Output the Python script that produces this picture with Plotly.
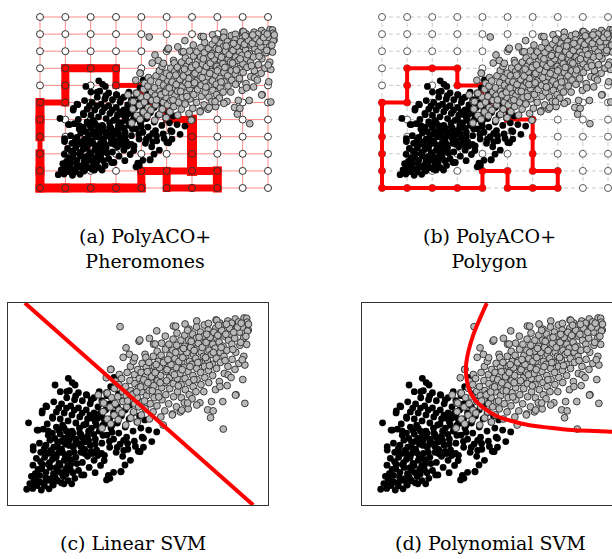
import plotly.graph_objects as go

W, H = 612, 559

# ---------------------------------------------------------------- data
# class 0 (black) samples
black_x = [
    0.72, 0.95, 1.12, 0.84, 1.28, 1.58, 1.36, 1.05, 0.90, 1.22,
    1.52, 1.72, 1.82, 1.46, 1.16, 0.96, 1.31, 1.62, 1.92, 2.12,
    2.31, 2.57, 2.22, 1.96, 1.71, 1.41, 1.09, 0.97, 1.26, 1.56,
    1.86, 2.16, 2.41, 2.71, 2.92, 3.12, 2.86, 2.61, 2.36, 2.06,
    1.76, 1.46, 1.21, 1.61, 1.91, 2.21, 2.51, 2.81, 3.06, 3.31,
    3.56, 3.86, 4.06, 4.35, 3.71, 3.41, 3.16, 2.91, 2.61, 2.31,
    2.01, 1.71, 1.36, 1.12, 1.51, 1.86, 2.16, 2.46, 2.76, 3.06,
    3.36, 3.61, 3.91, 4.16, 4.41, 4.71, 5.01, 5.21, 4.61, 4.31,
    4.06, 3.81, 3.51, 3.21, 2.91, 2.61, 2.31, 2.01, 1.71, 1.31,
    0.79, 1.86, 2.16, 2.46, 2.76, 3.06, 3.36, 3.66, 3.96, 4.26,
    4.56, 4.86, 5.16, 5.53, 5.72, 5.41, 5.11, 4.81, 4.51, 4.21,
    3.91, 3.61, 3.31, 3.01, 2.71, 2.41, 2.06, 1.76, 1.46, 2.26,
    2.56, 2.86, 3.16, 3.46, 3.76, 4.06, 4.36, 4.66, 4.96, 5.26,
    3.01, 2.71, 2.36, 2.01, 1.81, 2.32, 2.58, 3.31, 3.61, 3.91,
    4.21, 4.51, 4.81, 3.51, 3.81, 4.08, 3.95, 4.41, 5.06, 4.34,
    3.92, 3.79, 4.50, 5.08, 5.21, 2.83, 1.74, 2.24, 1.17, 1.49,
    1.72, 0.97, 2.47, 2.26, 3.03, 1.32, 2.05, 2.45, 3.35, 3.60,
    1.45, 1.75, 2.00, 2.30, 2.55, 2.80, 3.05, 3.30, 3.55, 3.80,
    1.30, 1.60, 1.85, 2.10, 2.35, 2.60, 2.85, 3.10, 3.40, 3.70,
    1.05, 1.35, 1.65, 1.90, 2.15, 2.45, 2.75, 3.00, 3.25, 3.55,
    4.70, 4.90, 4.60, 4.25, 4.45, 4.00, 3.25, 2.95, 2.10, 1.55,
    1.20, 1.40, 1.65, 1.90, 2.05, 1.85, 1.55, 1.25, 2.30, 2.50,
    2.65, 2.45, 2.20, 1.95, 1.70, 1.40, 1.80, 2.05, 2.35, 2.70,
    2.95, 3.20, 3.45, 3.70, 3.35, 3.10, 2.80, 2.50, 2.25, 1.95,
    1.55, 3.65, 3.90, 4.20, 4.45, 4.00, 3.75, 3.45, 3.15, 2.85,
    2.55, 2.25, 1.95, 2.60, 3.20, 4.60, 4.90, 2.40, 2.15, 1.00,
]
black_y = [
    0.78, 0.82, 0.96, 1.06, 0.74, 0.80, 1.08, 1.26, 1.42, 1.47,
    1.22, 1.04, 1.36, 1.62, 1.76, 1.97, 2.02, 1.86, 1.66, 1.41,
    1.21, 1.32, 1.77, 2.06, 2.26, 2.36, 2.31, 2.72, 2.61, 2.56,
    2.46, 2.21, 2.01, 1.71, 1.49, 1.86, 2.11, 2.36, 2.56, 2.76,
    2.86, 2.96, 3.06, 3.21, 3.11, 3.01, 2.86, 2.61, 2.41, 2.21,
    1.96, 1.46, 1.62, 1.66, 2.46, 2.71, 2.96, 3.11, 3.26, 3.41,
    3.51, 3.56, 3.76, 3.71, 4.01, 3.86, 3.81, 3.66, 3.56, 3.41,
    3.26, 3.06, 2.86, 2.61, 2.41, 2.21, 2.66, 2.86, 2.76, 3.01,
    3.26, 3.46, 3.66, 3.81, 3.96, 4.06, 4.16, 4.26, 4.36, 4.56,
    4.07, 4.61, 4.56, 4.46, 4.36, 4.26, 4.11, 3.96, 3.81, 3.56,
    3.36, 3.16, 3.36, 3.14, 3.62, 3.71, 3.81, 3.66, 3.86, 4.06,
    4.26, 4.41, 4.56, 4.71, 4.81, 4.91, 5.01, 5.11, 4.91, 5.31,
    5.21, 5.16, 5.01, 4.86, 4.71, 4.56, 4.41, 4.26, 4.11, 4.21,
    5.46, 5.56, 5.66, 5.61, 5.94, 6.27, 5.94, 5.31, 5.16, 5.01,
    4.86, 4.71, 4.56, 5.61, 5.41, 6.32, 5.86, 5.16, 4.41, 1.64,
    1.32, 1.24, 1.98, 2.64, 3.30, 1.49, 0.99, 1.54, 3.71, 4.87,
    4.29, 2.89, 6.06, 5.61, 5.44, 4.66, 1.10, 1.05, 1.60, 2.55,
    1.35, 1.55, 1.95, 2.30, 2.60, 2.90, 3.15, 3.50, 3.80, 4.05,
    1.80, 2.10, 2.35, 2.60, 2.95, 3.05, 3.35, 3.65, 3.95, 4.25,
    1.55, 2.65, 2.70, 2.90, 3.30, 3.35, 3.80, 4.00, 4.30, 4.55,
    4.95, 5.25, 5.40, 5.50, 3.20, 3.60, 2.55, 2.75, 3.95, 3.45,
    1.15, 0.95, 1.30, 1.20, 1.60, 1.85, 2.00, 2.15, 1.95, 1.60,
    2.05, 2.25, 2.45, 2.60, 2.55, 2.80, 3.30, 3.15, 3.20, 3.05,
    2.55, 2.65, 2.45, 2.20, 3.00, 3.20, 3.50, 3.55, 3.65, 3.70,
    3.65, 3.45, 3.15, 2.85, 2.70, 3.95, 4.15, 4.30, 4.45, 4.55,
    4.70, 4.80, 4.80, 5.40, 5.20, 3.05, 2.90, 1.75, 1.05, 1.15,
]

# class 1 (grey) samples
gray_x = [
    3.62, 3.66, 3.64, 3.79, 3.82, 3.78, 3.47, 3.95, 3.93, 3.98,
    3.96, 4.08, 4.12, 4.09, 4.13, 4.24, 4.27, 4.22, 4.26, 4.28,
    4.38, 4.42, 4.41, 4.37, 4.43, 4.53, 4.57, 4.55, 4.52, 4.58,
    4.67, 4.72, 4.68, 4.73, 4.69, 4.71, 4.31, 4.83, 4.87, 4.84,
    4.88, 4.86, 4.82, 4.98, 5.03, 4.97, 5.02, 5.05, 4.99, 5.04,
    5.13, 5.17, 5.14, 5.18, 5.12, 5.16, 5.27, 5.28, 5.33, 5.31,
    5.29, 5.32, 5.30, 5.44, 5.47, 5.43, 5.48, 5.46, 5.42, 5.44,
    5.58, 5.62, 5.61, 5.57, 5.63, 5.59, 5.60, 5.73, 5.77, 5.76,
    5.72, 5.78, 5.74, 5.72, 5.88, 5.92, 5.91, 5.87, 5.93, 5.89,
    5.91, 6.03, 6.07, 6.04, 6.08, 6.02, 6.06, 6.05, 6.18, 6.22,
    6.21, 6.17, 6.23, 6.19, 6.33, 6.37, 6.36, 6.32, 6.38, 6.34,
    6.35, 6.36, 6.48, 6.52, 6.51, 6.47, 6.53, 6.49, 6.50, 6.63,
    6.67, 6.66, 6.62, 6.68, 6.64, 6.65, 6.78, 6.82, 6.81, 6.77,
    6.83, 6.79, 6.80, 6.81, 6.93, 6.97, 6.96, 6.92, 6.98, 6.94,
    6.95, 6.96, 7.08, 7.12, 7.11, 7.07, 7.13, 7.09, 7.10, 7.26,
    7.23, 7.27, 7.26, 7.22, 7.28, 7.24, 7.25, 7.38, 7.42, 7.41,
    7.37, 7.43, 7.39, 7.40, 7.53, 7.57, 7.56, 7.52, 7.58, 7.54,
    7.55, 7.71, 7.68, 7.72, 7.71, 7.67, 7.73, 7.69, 7.70, 7.79,
    7.83, 7.87, 7.86, 7.82, 7.88, 7.84, 7.98, 8.02, 8.01, 7.97,
    8.03, 7.99, 8.00, 8.13, 8.17, 8.16, 8.12, 8.18, 8.14, 8.28,
    8.26, 8.32, 8.31, 8.27, 8.33, 8.29, 8.47, 8.43, 8.46, 8.42,
    8.48, 8.44, 8.45, 8.58, 8.62, 8.61, 8.57, 8.63, 8.15, 8.77,
    8.73, 8.76, 8.72, 8.78, 8.74, 8.88, 8.92, 8.91, 8.87, 9.03,
    9.07, 9.06, 9.02, 9.08, 9.11, 9.11, 9.18, 9.24, 9.18, 9.21,
    6.68, 7.26, 5.97, 6.32, 6.91, 7.89, 8.75, 9.01, 6.45, 5.66,
    5.07, 4.54, 4.87, 3.95, 3.82, 6.91, 8.03, 8.60, 9.20, 3.68,
    4.60, 4.78, 4.95, 5.10, 5.22, 5.38, 5.52, 5.36, 5.66, 5.83,
    5.70, 5.98, 6.12, 6.27, 6.15, 6.42, 6.57, 6.45, 6.72, 6.88,
    6.75, 7.02, 7.16, 7.05, 7.32, 7.47, 7.35, 7.62, 7.77, 7.64,
    7.92, 8.07, 8.22, 8.38, 8.52, 8.68, 8.83, 8.97, 8.40, 8.10,
    5.55, 5.85, 6.10, 6.40, 6.70, 7.00, 7.30, 7.60, 7.90, 8.20,
    5.25, 5.80, 6.55, 7.15, 7.75, 8.35, 8.65, 8.95, 9.15, 9.25,
]
gray_y = [
    3.80, 4.62, 5.05, 5.55, 4.25, 6.30, 5.45, 4.02, 4.85, 5.32,
    6.72, 4.45, 5.02, 5.77, 6.12, 4.22, 4.70, 5.36, 5.96, 6.46,
    4.55, 5.12, 5.62, 6.26, 7.31, 3.96, 4.86, 5.41, 5.86, 6.56,
    7.46, 4.31, 5.21, 5.66, 6.16, 6.86, 8.83, 4.61, 5.01, 5.52,
    6.01, 6.46, 7.11, 4.11, 4.86, 5.31, 5.81, 6.26, 6.71, 8.11,
    4.46, 5.11, 5.61, 6.06, 6.56, 7.01, 7.46, 4.76, 5.41, 5.86,
    6.36, 6.81, 7.31, 4.26, 5.01, 5.66, 6.11, 6.61, 7.06, 8.25,
    4.61, 5.31, 5.91, 6.41, 6.86, 7.36, 7.96, 4.91, 5.56, 6.16,
    6.66, 7.11, 7.61, 8.62, 4.36, 5.21, 5.81, 6.41, 6.91, 7.41,
    8.01, 4.66, 5.46, 6.06, 6.61, 7.16, 7.71, 8.36, 5.01, 5.76,
    6.31, 6.86, 7.41, 7.96, 4.51, 5.36, 6.01, 6.56, 7.11, 7.66,
    8.21, 8.86, 4.86, 5.61, 6.26, 6.81, 7.36, 7.91, 8.51, 4.61,
    5.31, 5.96, 6.51, 7.06, 7.61, 8.16, 5.06, 5.71, 6.26, 6.81,
    7.36, 7.86, 8.41, 8.96, 4.76, 5.46, 6.06, 6.61, 7.11, 7.61,
    8.16, 8.71, 5.26, 5.86, 6.41, 6.96, 7.46, 7.96, 8.46, 9.11,
    5.61, 6.21, 6.76, 7.26, 7.76, 8.26, 8.81, 5.06, 5.96, 6.56,
    7.06, 7.56, 8.06, 8.56, 5.61, 6.31, 6.86, 7.36, 7.86, 8.36,
    8.91, 8.99, 4.71, 6.06, 6.66, 7.16, 7.66, 8.16, 8.66, 4.32,
    5.12, 6.41, 6.96, 7.46, 7.96, 8.46, 5.71, 6.76, 7.26, 7.76,
    8.26, 8.76, 9.16, 6.11, 7.06, 7.56, 8.06, 8.56, 9.01, 3.76,
    5.12, 6.51, 7.36, 7.86, 8.36, 8.86, 6.44, 5.91, 6.86, 7.66,
    8.16, 8.66, 9.11, 6.31, 7.21, 7.96, 8.46, 8.91, 5.86, 5.46,
    6.71, 7.56, 8.26, 8.76, 9.21, 7.01, 7.91, 8.56, 9.06, 6.21,
    7.36, 8.26, 8.81, 9.26, 5.03, 6.93, 7.95, 8.66, 9.24, 8.61,
    4.70, 4.95, 3.96, 4.46, 5.05, 4.66, 5.44, 7.19, 8.85, 7.97,
    8.17, 7.78, 7.29, 6.71, 5.54, 8.65, 9.14, 9.00, 9.05, 5.05,
    5.15, 5.45, 5.60, 5.85, 6.20, 6.05, 6.35, 6.60, 6.55, 6.80,
    6.95, 7.05, 6.70, 6.95, 7.20, 7.25, 7.10, 7.55, 7.30, 7.55,
    7.75, 7.80, 7.65, 8.10, 8.00, 7.80, 8.30, 8.05, 8.30, 8.45,
    8.55, 8.40, 8.65, 8.45, 8.75, 8.55, 8.80, 9.00, 8.95, 8.90,
    5.65, 6.05, 6.15, 6.45, 6.70, 6.85, 7.05, 7.30, 7.55, 7.80,
    5.15, 5.35, 5.90, 6.20, 6.90, 7.15, 7.70, 8.05, 8.35, 8.95,
]

# ant-colony grid (node indices)
grid_cols = list(range(10))
grid_rows = list(range(11))

# pheromone-laden edges: from (x0, y0) to (x1, y1) with deposit level
pher_x0 = [0, 0, 0, 0, 0, 0, 1, 1, 1, 2, 3, 3, 4, 4, 5, 5, 6, 6, 6, 6, 7, 7, 6, 5, 5, 4, 5, 4, 3, 2, 1]
pher_y0 = [0, 1, 2, 3, 4, 5, 5, 6, 7, 7, 7, 6, 6, 5, 5, 4, 4, 3, 2, 1, 1, 0, 0, 0, 1, 1, 1, 0, 0, 0, 0]
pher_x1 = [0, 0, 0, 0, 0, 1, 1, 1, 2, 3, 3, 4, 4, 5, 5, 6, 6, 6, 6, 7, 7, 6, 5, 5, 4, 4, 6, 3, 2, 1, 0]
pher_y1 = [1, 2, 3, 4, 5, 5, 6, 7, 7, 7, 6, 6, 5, 5, 4, 4, 3, 2, 1, 1, 0, 0, 0, 1, 1, 0, 1, 0, 0, 0, 0]
pher_level = [9, 9, 5, 9, 9, 6, 8, 8, 8, 8, 7, 5, 5, 5, 7, 7, 10, 10, 10, 8, 9, 7, 7, 8, 8, 8, 7, 9, 9, 9, 9]

# final PolyACO+ polygon vertices
polygon_x = [0, 1, 1, 3, 3, 4, 4, 5, 5, 6, 6, 7, 7, 5, 5, 4, 4, 0, 0]
polygon_y = [5, 5, 7, 7, 6, 6, 5, 5, 4, 4, 1, 1, 0, 0, 1, 1, 0, 0, 5]

# SVM decision boundaries
linsvm_x = [0.65, 9.43]
linsvm_y = [10.0, 0.0]
polysvm_x = [4.80, 4.54, 4.28, 4.09, 4.00, 4.03, 4.15, 4.41, 4.80, 5.24, 5.76, 6.40, 7.17, 8.07, 8.96, 9.60, 10.0]
polysvm_y = [9.99, 9.24, 8.42, 7.59, 6.85, 6.19, 5.61, 5.11, 4.70, 4.37, 4.16, 3.96, 3.83, 3.71, 3.66, 3.63, 3.61]

captions = [
    "(a) PolyACO+<br>Pheromones",
    "(b) PolyACO+<br>Polygon",
    "(c) Linear SVM",
    "(d) Polynomial SVM",
]

# ---------------------------------------------------------------- styling
RED = "#ff0000"
GRAY_FILL = "#b8b8b8"
PT_SIZE = 6.8
SERIF = "DejaVu Serif"
CAP_SIZE = 19


def axis_range(d0, d1, v0, p0, v1, p1):
    """Values at pixel d0 and d1, given value v0 at pixel p0 and v1 at pixel p1."""
    s = (p1 - p0) / (v1 - v0)
    return [v0 + (d0 - p0) / s, v0 + (d1 - p0) / s], s


def xdom(l, r):
    return [l / W, r / W]


def ydom(t, b):
    return [(H - b) / H, (H - t) / H]


fig = go.Figure()

# a: grid x 0..9 at px 40..268, y 0..10 at px 188..17 ; b: grid x 0..9 at px 382..608
ax_a, sx_a = axis_range(32, 278, 0, 40, 9, 268)
ay_a, sy_a = axis_range(198, 8, 0, 188, 10, 17)
ax_b, sx_b = axis_range(375, 612, 0, 382, 9, 608)
ay_b, sy_b = ay_a, sy_a

hidden = dict(visible=False, showgrid=False, zeroline=False, fixedrange=True)
framed = dict(showgrid=False, zeroline=False, showticklabels=False, ticks="",
              showline=True, linecolor="#333333", linewidth=1)

fig.update_layout(
    width=W, height=H,
    margin=dict(l=0, r=0, t=0, b=0),
    paper_bgcolor="white", plot_bgcolor="rgba(0,0,0,0)",
    showlegend=False,
    xaxis=dict(domain=xdom(32, 278), range=ax_a, anchor="y", **hidden),
    yaxis=dict(domain=ydom(8, 198), range=ay_a, anchor="x", **hidden),
    xaxis2=dict(domain=xdom(375, 612), range=ax_b, anchor="y2", **hidden),
    yaxis2=dict(domain=ydom(8, 198), range=ay_b, anchor="x2", **hidden),
    xaxis3=dict(domain=xdom(8, 268), range=[0, 10], anchor="y3", mirror=True, **framed),
    yaxis3=dict(domain=ydom(303, 505), range=[0, 10], anchor="x3", mirror=True, **framed),
    xaxis4=dict(domain=xdom(362, 612), range=[0, 250 / 26], anchor="y4", mirror=True, **framed),
    yaxis4=dict(domain=ydom(303, 505), range=[0, 10], anchor="x4", mirror=False, **framed),
)


def grid_lines(cols, rows):
    xs, ys = [], []
    for r in rows:
        xs += [cols[0], cols[-1], None]
        ys += [r, r, None]
    for c in cols:
        xs += [c, c, None]
        ys += [rows[0], rows[-1], None]
    return xs, ys


def add_points(xa, ya):
    fig.add_trace(go.Scatter(x=black_x, y=black_y, mode="markers", xaxis=xa, yaxis=ya,
                             marker=dict(size=PT_SIZE, color="black", line=dict(width=0)),
                             hoverinfo="skip"))
    fig.add_trace(go.Scatter(x=gray_x, y=gray_y, mode="markers", xaxis=xa, yaxis=ya,
                             marker=dict(size=PT_SIZE, color=GRAY_FILL,
                                         line=dict(width=0.9, color="#2a2a2a")),
                             hoverinfo="skip"))


node_x = [c for r in grid_rows for c in grid_cols]
node_y = [r for r in grid_rows for c in grid_cols]

# ---------------------------------------------------------------- (a) pheromones
gx, gy = grid_lines(grid_cols, grid_rows)
fig.add_trace(go.Scatter(x=gx, y=gy, mode="lines", xaxis="x", yaxis="y",
                         line=dict(color="rgba(255,60,60,0.6)", width=1), hoverinfo="skip"))
fig.add_trace(go.Scatter(x=node_x, y=node_y, mode="markers", xaxis="x", yaxis="y",
                         marker=dict(size=7, color="white", line=dict(width=1, color="#333333")),
                         hoverinfo="skip"))

on_path = set()
for x0, y0, x1, y1, lev in zip(pher_x0, pher_y0, pher_x1, pher_y1, pher_level):
    on_path.add((x0, y0))
    on_path.add((x1, y1))
    # extend each stroke by half its width for square ends
    ex = (lev / 2) / sx_a
    ey = (lev / 2) / abs(sy_a)
    if y0 == y1:
        lo, hi = min(x0, x1) - ex, max(x0, x1) + ex
        xs, ys = [lo, hi], [y0, y1]
    else:
        lo, hi = min(y0, y1) - ey, max(y0, y1) + ey
        xs, ys = [x0, x1], [lo, hi]
    fig.add_trace(go.Scatter(x=xs, y=ys, mode="lines", xaxis="x", yaxis="y",
                             line=dict(color=RED, width=lev), hoverinfo="skip"))

px_ = [p[0] for p in sorted(on_path)]
py_ = [p[1] for p in sorted(on_path)]
fig.add_trace(go.Scatter(x=px_, y=py_, mode="markers", xaxis="x", yaxis="y",
                         marker=dict(size=7, color="rgba(0,0,0,0)",
                                     line=dict(width=1, color="#333333")),
                         hoverinfo="skip"))
add_points("x", "y")

# ---------------------------------------------------------------- (b) polygon
fig.add_trace(go.Scatter(x=gx, y=gy, mode="lines", xaxis="x2", yaxis="y2",
                         line=dict(color="#cccccc", width=1, dash="4px,3px"), hoverinfo="skip"))
fig.add_trace(go.Scatter(x=node_x, y=node_y, mode="markers", xaxis="x2", yaxis="y2",
                         marker=dict(size=7, color="white", line=dict(width=1, color="#5a5a5a")),
                         hoverinfo="skip"))
# expand polygon edges to every grid node they pass through
pnx, pny = [], []
for k in range(len(polygon_x) - 1):
    x0, y0, x1, y1 = polygon_x[k], polygon_y[k], polygon_x[k + 1], polygon_y[k + 1]
    n = max(abs(x1 - x0), abs(y1 - y0))
    for t in range(n):
        pnx.append(x0 + (x1 - x0) * t // n)
        pny.append(y0 + (y1 - y0) * t // n)
pnx.append(polygon_x[-1])
pny.append(polygon_y[-1])
fig.add_trace(go.Scatter(x=pnx, y=pny, mode="lines+markers", xaxis="x2", yaxis="y2",
                         line=dict(color=RED, width=4),
                         marker=dict(size=7, color=RED, line=dict(width=0)),
                         hoverinfo="skip"))
add_points("x2", "y2")

# ---------------------------------------------------------------- (c) linear SVM
add_points("x3", "y3")
fig.add_trace(go.Scatter(x=linsvm_x, y=linsvm_y, mode="lines", xaxis="x3", yaxis="y3",
                         line=dict(color=RED, width=4), hoverinfo="skip"))

# ---------------------------------------------------------------- (d) polynomial SVM
add_points("x4", "y4")
fig.add_trace(go.Scatter(x=polysvm_x, y=polysvm_y, mode="lines", xaxis="x4", yaxis="y4",
                         line=dict(color=RED, width=4, shape="spline"), hoverinfo="skip"))

# ---------------------------------------------------------------- captions
cap_pos = [(145, 248), (489, 248), (133, 543), (490, 543)]
for text, (cx, cy) in zip(captions, cap_pos):
    fig.add_annotation(text=text, x=cx / W, y=(H - cy) / H, xref="paper", yref="paper",
                       showarrow=False, xanchor="center", yanchor="middle", align="center",
                       font=dict(family=SERIF, size=CAP_SIZE, color="black"))

fig.write_html("out.html")
